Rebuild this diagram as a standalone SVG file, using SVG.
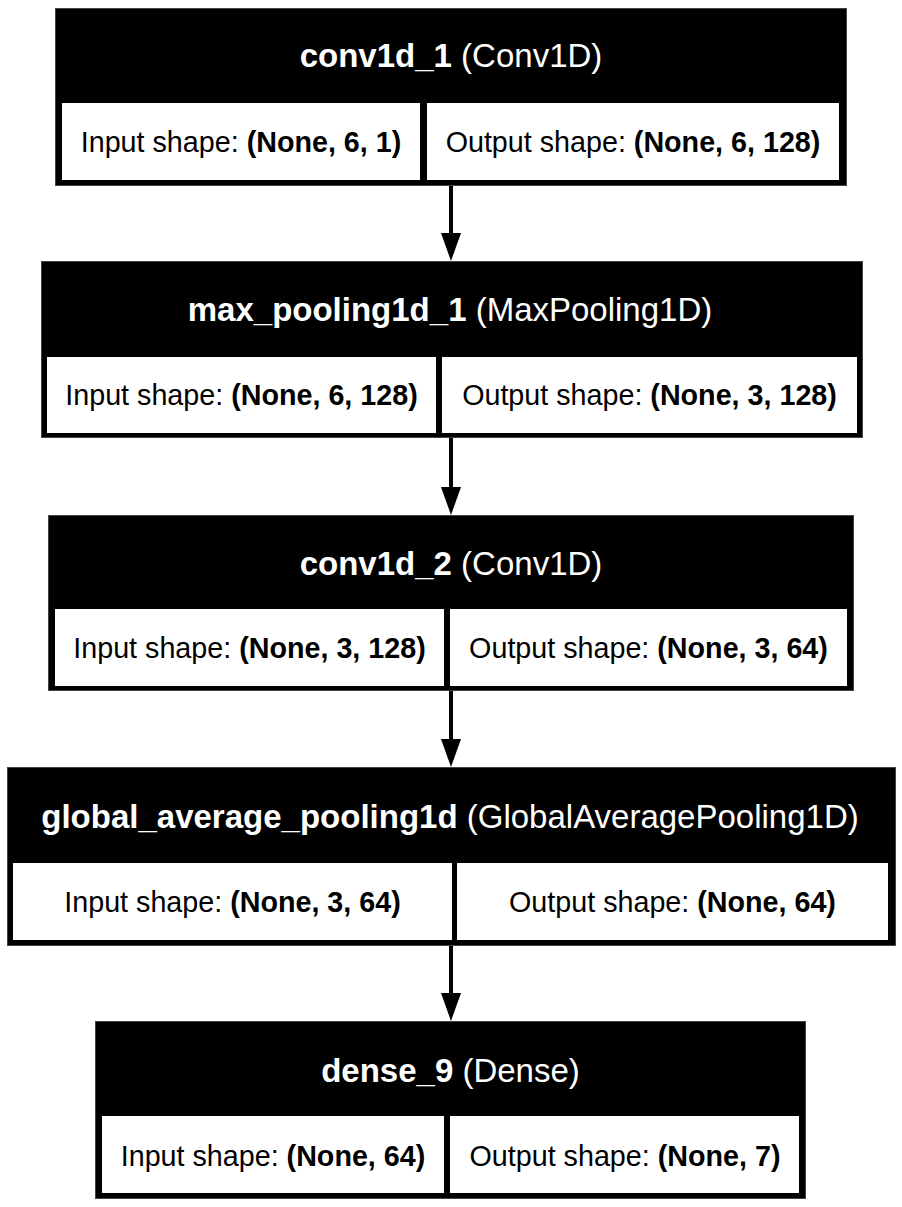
<svg xmlns="http://www.w3.org/2000/svg" width="902" height="1207" viewBox="0 0 902 1207">
<defs>
<style>
.outer{fill:#000;stroke:#444;stroke-width:1}
.cell{fill:#fff}
.hdr{font-family:"Liberation Sans",Arial,sans-serif;font-size:33px;fill:#fff;text-anchor:middle}
.txt{font-family:"Liberation Sans",Arial,sans-serif;font-size:28.7px;fill:#000;text-anchor:middle}
.b{font-weight:bold}
.edge{stroke:#000;stroke-width:4;fill:none}
.head{fill:#000}
</style>
</defs>
<rect x="0" y="0" width="902" height="1207" fill="#fff"/>
<g id="connectors">
<line class="edge" x1="451" y1="185" x2="451" y2="234"/>
<polygon class="head" points="441,233 461,233 451,261"/>
<line class="edge" x1="451" y1="437" x2="451" y2="488"/>
<polygon class="head" points="441,487 461,487 451,515"/>
<line class="edge" x1="451" y1="690" x2="451" y2="740"/>
<polygon class="head" points="441,739 461,739 451,767"/>
<line class="edge" x1="451" y1="945" x2="451" y2="994"/>
<polygon class="head" points="441,993 461,993 451,1021"/>
</g>
<g id="conv1d_1">
<rect class="outer" x="55.5" y="8.5" width="791" height="177"/>
<rect class="cell" x="62" y="103" width="358" height="77"/>
<rect class="cell" x="427" y="103" width="412" height="77"/>
<text class="hdr" x="451" y="67"><tspan class="b">conv1d_1</tspan> (Conv1D)</text>
<text class="txt" x="241" y="152">Input shape: <tspan class="b">(None, 6, 1)</tspan></text>
<text class="txt" x="633" y="152">Output shape: <tspan class="b">(None, 6, 128)</tspan></text>
</g>
<g id="max_pooling1d_1">
<rect class="outer" x="41.5" y="261.5" width="821" height="176"/>
<rect class="cell" x="47" y="357" width="389" height="76"/>
<rect class="cell" x="442" y="357" width="415" height="76"/>
<text class="hdr" x="450" y="321"><tspan class="b">max_pooling1d_1</tspan> (MaxPooling1D)</text>
<text class="txt" x="241.5" y="405">Input shape: <tspan class="b">(None, 6, 128)</tspan></text>
<text class="txt" x="649.5" y="405">Output shape: <tspan class="b">(None, 3, 128)</tspan></text>
</g>
<g id="conv1d_2">
<rect class="outer" x="48.5" y="515.5" width="805" height="175"/>
<rect class="cell" x="55" y="609" width="389" height="77"/>
<rect class="cell" x="450" y="609" width="397" height="77"/>
<text class="hdr" x="451" y="575"><tspan class="b">conv1d_2</tspan> (Conv1D)</text>
<text class="txt" x="249.5" y="658">Input shape: <tspan class="b">(None, 3, 128)</tspan></text>
<text class="txt" x="648.5" y="658">Output shape: <tspan class="b">(None, 3, 64)</tspan></text>
</g>
<g id="global_average_pooling1d">
<rect class="outer" x="7.5" y="767.5" width="888" height="178"/>
<rect class="cell" x="13" y="863" width="439" height="77"/>
<rect class="cell" x="457" y="863" width="431" height="77"/>
<text class="hdr" x="450" y="828"><tspan class="b">global_average_pooling1d</tspan> (GlobalAveragePooling1D)</text>
<text class="txt" x="232.5" y="912">Input shape: <tspan class="b">(None, 3, 64)</tspan></text>
<text class="txt" x="672.5" y="912">Output shape: <tspan class="b">(None, 64)</tspan></text>
</g>
<g id="dense_9">
<rect class="outer" x="95.5" y="1021.5" width="710" height="177"/>
<rect class="cell" x="102" y="1116" width="342" height="77"/>
<rect class="cell" x="450" y="1116" width="349" height="77"/>
<text class="hdr" x="450.5" y="1082"><tspan class="b">dense_9</tspan> (Dense)</text>
<text class="txt" x="273" y="1166">Input shape: <tspan class="b">(None, 64)</tspan></text>
<text class="txt" x="625" y="1166">Output shape: <tspan class="b">(None, 7)</tspan></text>
</g>
</svg>
